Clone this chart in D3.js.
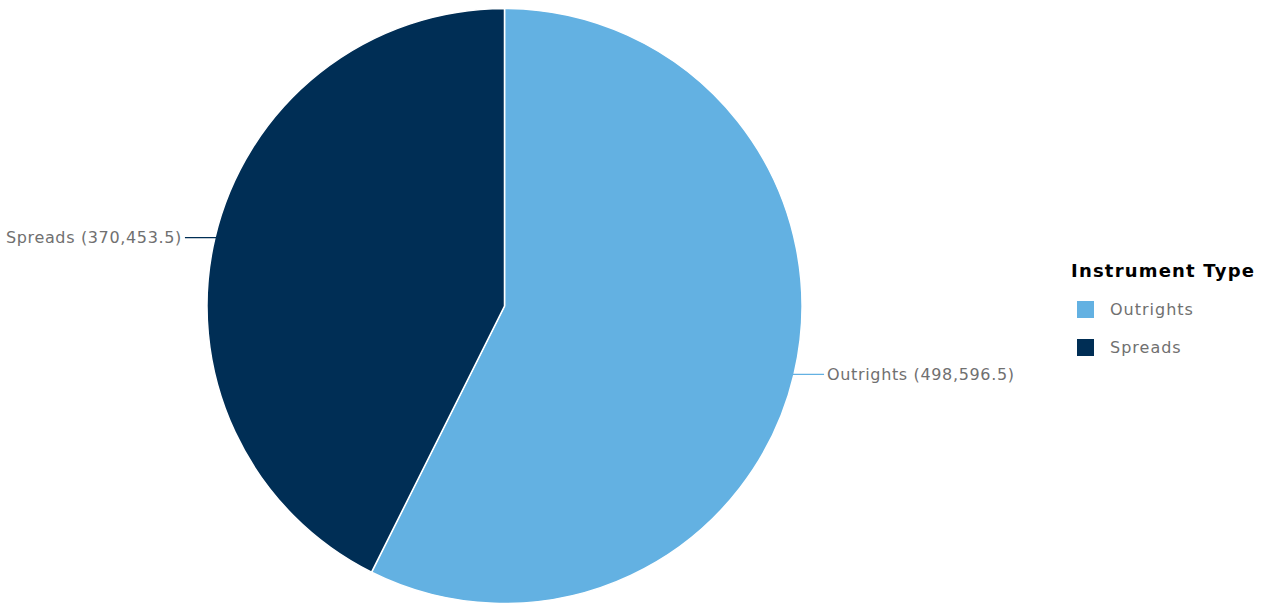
<!DOCTYPE html>
<html><head><meta charset="utf-8">
<script src="https://cdn.jsdelivr.net/npm/d3@7"></script>
<style>body{margin:0;background:#fff}svg{display:block}</style>
</head><body>
<svg id="chart" width="1264" height="605"></svg>
<script>
const categories = ["Outrights", "Spreads"];
const values = [498596.5, 370453.5];
const valueLabels = ["498,596.5", "370,453.5"];
const colors = ["#63b1e2", "#002e55"];
const legendTitle = "Instrument Type";

const svg = d3.select("#chart");
const cx = 504.5, cy = 306, r = 297.5;
const font = "DejaVu Sans, sans-serif";

const data = categories.map((c, i) => ({cat: c, value: values[i], label: valueLabels[i], color: colors[i]}));
const pie = d3.pie().sort(null).value(d => d.value);
const arcs = pie(data);
const arc = d3.arc().innerRadius(0).outerRadius(r);

const g = svg.append("g").attr("transform", `translate(${cx},${cy})`);
g.selectAll("path").data(arcs).join("path")
  .attr("d", arc).attr("fill", d => d.data.color)
  .attr("stroke", "#fff").attr("stroke-width", 1.5);

arcs.forEach(a => {
  const mid = (a.startAngle + a.endAngle) / 2;
  const x = r * Math.sin(mid), y = -r * Math.cos(mid);
  const dir = x >= 0 ? 1 : -1;
  const x2 = x + dir * 30;
  g.append("line").attr("x1", x - dir * 4).attr("y1", y).attr("x2", x2).attr("y2", y)
    .attr("stroke", a.data.color).attr("stroke-width", 1.2);
  g.append("text").attr("x", x2 + dir * 3).attr("y", y).attr("dy", "0.35em")
    .attr("text-anchor", dir > 0 ? "start" : "end")
    .attr("font-family", font).attr("font-size", 16).attr("letter-spacing", 0.65).attr("fill", "#707070")
    .text(`${a.data.cat} (${a.data.label})`);
});

const lg = svg.append("g").attr("transform", "translate(1071,0)");
lg.append("text").attr("x", 0).attr("y", 277).attr("font-family", font)
  .attr("font-weight", "bold").attr("font-size", 18).attr("letter-spacing", 1.2).attr("fill", "#000").text(legendTitle);
const ly = d3.scaleBand().domain(categories).range([300, 376]).paddingInner(0);
categories.forEach((c, i) => {
  const y0 = ly(c);
  lg.append("rect").attr("x", 6).attr("y", y0 + 1).attr("width", 17).attr("height", 17).attr("fill", colors[i]);
  lg.append("text").attr("x", 39).attr("y", y0 + 9.5).attr("dy", "0.35em")
    .attr("font-family", font).attr("font-size", 16).attr("letter-spacing", 1).attr("fill", "#707070").text(c);
});
</script>
</body></html>
